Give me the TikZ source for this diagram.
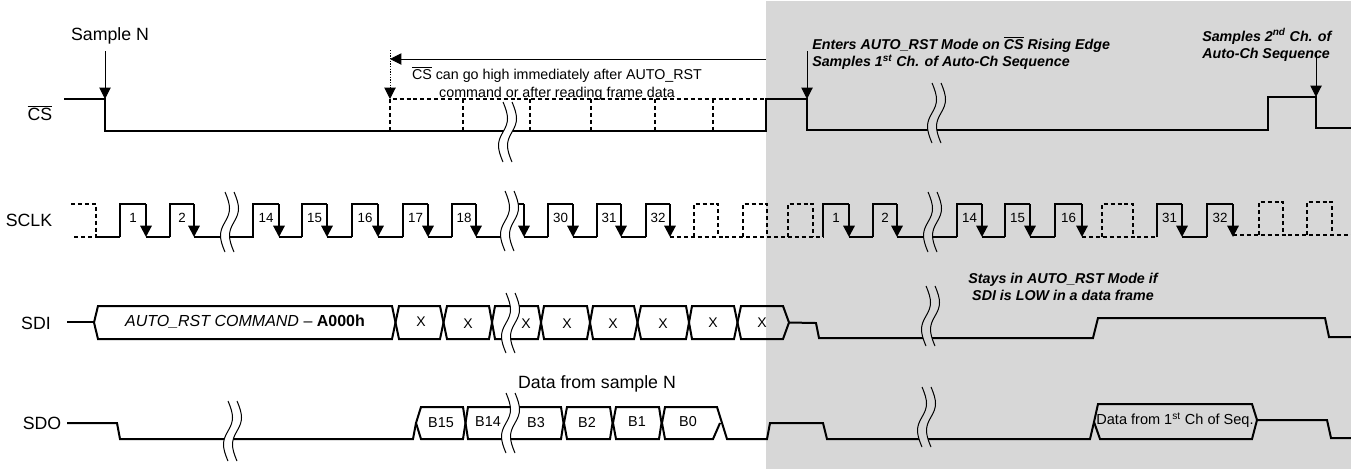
\documentclass[tikz,border=0pt]{standalone}
\usepackage{fontspec}
\setmainfont{Liberation Sans}
\usepackage{xcolor}
\usepackage{tikz}
\usetikzlibrary{arrows.meta}
\definecolor{shadegray}{RGB}{215,215,215}
\newcommand{\csbar}{$\overline{\mbox{CS}}$}
\begin{document}
\begin{tikzpicture}[x=0.75pt,y=-0.75pt,
  sig/.style={line width=1.5pt},
  sigd/.style={line width=1.5pt,dash pattern=on 3pt off 2.2pt},
  thinl/.style={line width=0.75pt},
  tip/.style={-{Triangle[length=8.5pt,width=8.5pt]}},
  biglbl/.style={inner sep=0pt,font=\fontsize{13.3}{16}\selectfont},
  midlbl/.style={inner sep=0pt,align=center,font=\fontsize{10.7}{13.5}\selectfont},
  notelbl/.style={inner sep=0pt,font=\fontsize{10.7}{13}\selectfont\bfseries\itshape},
  pics/brk/.style={code={
    \fill[#1] (0,0) .. controls (6,14) and (6,20) .. (0,30) .. controls (-6,40) and (-6,46) .. (0,60)
      -- (9,60) .. controls (3,46) and (3,40) .. (9,30) .. controls (15,20) and (15,14) .. (9,0) -- cycle;
    \draw[thinl] (0,0) .. controls (6,14) and (6,20) .. (0,30) .. controls (-6,40) and (-6,46) .. (0,60);
    \draw[thinl] (9,0) .. controls (15,14) and (15,20) .. (9,30) .. controls (3,40) and (3,46) .. (9,60);
  }}
]
\useasboundingbox (0,0) rectangle (1351,469);
\fill[shadegray] (766,1) rectangle (1351,469);

% CS
\draw[sig] (64,99) -- (105,99) -- (105,131) -- (766,131) -- (766,99) -- (807,99) -- (807,130) -- (1268,130) -- (1268,97) -- (1316,97) -- (1316,128) -- (1351,128);
\draw[sigd] (390,131) -- (390,99) -- (766,99);
\foreach \x in {463,530,591,655,713}
  \draw[sigd] (\x,99) -- (\x,131);

% SCLK
\draw[sigd] (71,204) -- (96,204) -- (96,237) -- (71,237);
\draw[sigd] (670,237) -- (823,237);
\draw[sigd] (1082,237) -- (1157,237);
\draw[sigd] (1233,235) -- (1351,235);
\foreach \r/\f in {694/718,743/767,788/813,1102/1133}
  \draw[sigd] (\r,237) -- (\r,204) -- (\f,204) -- (\f,237);
\foreach \r/\f in {1259/1283,1307/1332}
  \draw[sigd] (\r,235) -- (\r,202) -- (\f,202) -- (\f,235);
\foreach \a/\b in {96/120,146/170,194/254,279/302,327/352,378/403,428/452,476/508,524/548,573/597,621/646,849/873,897/957,982/1005,1030/1055,1182/1207}
  \draw[sig] (\a,237) -- (\b,237);
\foreach \r/\f/\n in {120/146/1,170/194/2,253/279/14,302/327/15,352/378/16,403/428/17,452/476/18,548/573/30,597/621/31,646/670/32,823/849/1,873/897/2,957/982/14,1005/1030/15,1055/1082/16,1157/1182/31,1207/1233/32}{
  \draw[sig] (\r,237) -- (\r,204) -- (\f,204);
  \draw[sig,tip] (\f,204) -- (\f,237);
  \node[inner sep=0pt,font=\fontsize{10}{12}\selectfont] (clk\r) at ({(\r+\f)/2},218) {\n};
}
\draw[sig] (510,204) -- (524,204);
\draw[sig,tip] (524,204) -- (524,237);

% SDI
\draw[sig] (67,322) -- (94,322);
\foreach \a/\b/\tl/\tr in {98/392/4/3.5,399/440/3.5/3.5,447/489/3.5/3,495/538/3/3,544/587/3/3,593/634/3/3.5,641/686/3.5/3,692/734/3/3.5,741/783/3.5/6}
  \draw[sig] (\a,306) -- (\b,306) -- (\b+\tr,322.5) -- (\b,339) -- (\a,339) -- (\a-\tl,322.5) -- cycle;
\draw[sig] (789,322.5) -- (816,323) -- (819,338) -- (1093,338) -- (1098,318) -- (1325,318) -- (1329,337) -- (1351,337);
\foreach \x/\y in {421/322,468/324,526/324,567/324,613/324,663/324,713/323,762/323}
  \node[inner sep=0pt,font=\fontsize{10.5}{12}\selectfont] (sdi\x) at (\x,\y) {X};
\node[inner sep=0pt,font=\fontsize{12}{14}\selectfont] (cmd) at (245,322) {\textit{AUTO\_RST COMMAND} -- \textbf{A000h}};

% SDO
\draw[sig] (67,423) -- (117,423) -- (120,439) -- (413,439) -- (416,423);
\foreach \a/\b/\tl in {421/463/5,468/561/2.5,567/610/3,616/659/3}
  \draw[sig] (\a,407) -- (\b,407) -- (\b+2.5,423) -- (\b,439) -- (\a,439) -- (\a-\tl,423) -- cycle;
\draw[sig] (720,423) -- (713,439) -- (665,439) -- (662,423) -- (665,407) -- (717,407) -- (727,439) -- (767,439) -- (770,423) -- (823,423) -- (827,439) -- (1090,439) -- (1094,422);
\draw[sig] (1094,422) -- (1098,404) -- (1252,404) -- (1257,420) -- (1252,439) -- (1100,439) -- cycle;
\draw[sig] (1257,420) -- (1327,420) -- (1331,438) -- (1351,438);
\foreach \x/\y/\n in {441/423/B15,488/422/B14,536/423/B3,587/422/B2,637/422/B1,688/422/B0}
  \node[inner sep=0pt,font=\fontsize{10.8}{13}\selectfont] (sdo\n) at (\x,\y) {\n};
\node[inner sep=0pt,font=\fontsize{10.9}{13}\selectfont] (seqdata) at (1175,420) {Data from 1\textsuperscript{st} Ch of Seq.};

% breaks
\foreach \bx/\by/\bc in {503/102/white,225/192/white,505/191/white,506/293/white,228/401/white,506/393/white,932/83/shadegray,928/192/shadegray,926/286/shadegray,922/387/shadegray}
  \pic at (\bx,\by) {brk=\bc};

% signal names
\node[biglbl] (csname) at (40,113) {\csbar};
\node[biglbl] (sclkname) at (29,220) {SCLK};
\node[biglbl] (sdiname) at (36,323) {SDI};
\node[biglbl] (sdoname) at (42,423) {SDO};

% notes
\node[biglbl] (samplen) at (110,36) {Sample N};
\node[biglbl] (datan) at (597,384) {Data from sample N};
\node[midlbl] (cshigh) at (557,83.5) {\csbar{} can go high immediately after AUTO\_RST\\command or after reading frame data};
\node[notelbl,align=left,anchor=west] (enters) at (812,53) {Enters AUTO\_RST Mode on \csbar{} Rising Edge\\Samples 1\textsuperscript{st} Ch. of Auto-Ch Sequence};
\node[notelbl,align=left,anchor=west] (samples) at (1202,45) {Samples 2\textsuperscript{nd} Ch. of\\Auto-Ch Sequence};
\node[notelbl,align=center] (stays) at (1063,287) {Stays in AUTO\_RST Mode if\\SDI is LOW in a data frame};

% arrows
\coordinate (samptop) at (105,51);
\coordinate (sampedge) at (105,99);
\coordinate (entertop) at (807,51);
\coordinate (enteredge) at (807,99);
\coordinate (sectop) at (1316,52);
\coordinate (secedge) at (1316,97);
\coordinate (rangeright) at (766,59);
\coordinate (rangeleft) at (390,59);
\coordinate (rangetop) at (390,50);
\coordinate (rangeedge) at (390,99);
\draw[thinl,tip] (samptop) -- (sampedge);
\draw[thinl,tip] (entertop) -- (enteredge);
\draw[thinl,tip] (sectop) -- (secedge);
\draw[thinl,tip] (rangeright) -- (rangeleft);
\draw[thinl,dash pattern=on 1pt off 1pt] (rangetop) -- (390,89);
\draw[thinl,tip] (390,89) -- (rangeedge);
\end{tikzpicture}
\end{document}
